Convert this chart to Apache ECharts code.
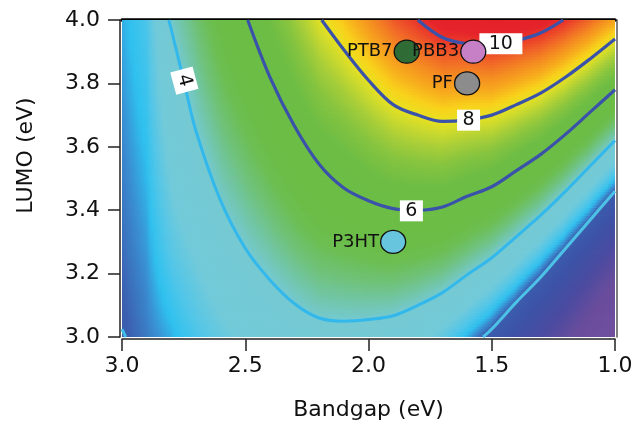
<!DOCTYPE html>
<html><head><meta charset="utf-8">
<script src="https://cdn.jsdelivr.net/npm/echarts/dist/echarts.min.js"></script>
<style>html,body{margin:0;padding:0;background:#fff}#c{width:636px;height:426px}</style>
</head><body><div id="c"></div>
<script>
// ---- data ----
const bandgaps = [3.0,2.9,2.8,2.7,2.6,2.5,2.4,2.3,2.2,2.1,2.0,1.9,1.8,1.7,1.6,1.5,1.4,1.3,1.2,1.1,1.0];
const lumos = [3.00,3.05,3.10,3.15,3.20,3.25,3.30,3.35,3.40,3.45,3.50,3.55,3.60,3.65,3.70,3.75,3.80,3.85,3.90,3.95,4.00];
// efficiency (%) rows: one per LUMO value, columns follow bandgaps
const eff = [
[2.00,2.20,2.43,2.73,3.03,3.24,3.43,3.62,3.76,3.75,3.71,3.60,3.34,2.97,2.42,1.78,0.96,0.00,-1.11,-2.36,-3.75],
[2.02,2.23,2.51,2.83,3.15,3.38,3.59,3.80,3.97,3.98,3.98,3.90,3.67,3.34,2.82,2.23,1.44,0.52,-0.56,-1.77,-3.13],
[2.04,2.26,2.59,2.93,3.26,3.51,3.74,3.98,4.18,4.22,4.24,4.20,4.00,3.71,3.23,2.67,1.92,1.04,0.00,-1.18,-2.50],
[2.06,2.28,2.67,3.02,3.38,3.65,3.90,4.16,4.39,4.45,4.51,4.50,4.34,4.08,3.63,3.12,2.40,1.56,0.56,-0.59,-1.88],
[2.08,2.31,2.75,3.12,3.50,3.78,4.05,4.34,4.60,4.69,4.77,4.80,4.67,4.46,4.03,3.56,2.88,2.08,1.11,0.00,-1.25],
[2.11,2.34,2.84,3.22,3.61,3.92,4.21,4.53,4.81,4.92,5.04,5.10,5.00,4.83,4.44,4.01,3.36,2.60,1.67,0.59,-0.63],
[2.13,2.37,2.92,3.32,3.73,4.05,4.37,4.71,5.01,5.16,5.30,5.40,5.34,5.20,4.84,4.45,3.84,3.12,2.22,1.18,0.00],
[2.15,2.39,3.00,3.41,3.85,4.19,4.52,4.89,5.22,5.39,5.57,5.70,5.67,5.57,5.24,4.90,4.32,3.64,2.78,1.77,0.63],
[2.17,2.42,3.08,3.51,3.96,4.32,4.68,5.07,5.43,5.63,5.83,6.00,6.00,5.94,5.64,5.34,4.80,4.16,3.33,2.36,1.25],
[2.19,2.45,3.16,3.61,4.08,4.46,4.83,5.25,5.64,5.86,6.10,6.30,6.34,6.31,6.05,5.79,5.28,4.68,3.89,2.95,1.88],
[2.21,2.48,3.24,3.71,4.20,4.59,4.99,5.43,5.85,6.10,6.36,6.60,6.67,6.69,6.45,6.23,5.76,5.20,4.44,3.54,2.50],
[2.23,2.50,3.32,3.80,4.31,4.73,5.15,5.61,6.06,6.33,6.63,6.90,7.00,7.06,6.85,6.68,6.24,5.72,5.00,4.13,3.13],
[2.25,2.53,3.40,3.90,4.43,4.86,5.30,5.79,6.27,6.56,6.89,7.20,7.34,7.43,7.26,7.12,6.72,6.24,5.55,4.72,3.75],
[2.27,2.56,3.48,4.00,4.54,5.00,5.46,5.97,6.48,6.80,7.16,7.50,7.67,7.80,7.66,7.57,7.20,6.76,6.11,5.31,4.38],
[2.29,2.59,3.56,4.10,4.66,5.13,5.61,6.15,6.69,7.03,7.42,7.80,8.00,8.17,8.06,8.01,7.68,7.28,6.66,5.90,5.00],
[2.32,2.61,3.65,4.19,4.78,5.27,5.77,6.34,6.90,7.27,7.69,8.10,8.34,8.54,8.47,8.46,8.16,7.80,7.22,6.49,5.63],
[2.34,2.64,3.73,4.29,4.89,5.40,5.93,6.52,7.10,7.50,7.95,8.40,8.67,8.91,8.87,8.90,8.64,8.32,7.77,7.08,6.25],
[2.36,2.67,3.81,4.39,5.01,5.54,6.08,6.70,7.31,7.74,8.22,8.70,9.00,9.29,9.27,9.35,9.12,8.84,8.33,7.67,6.88],
[2.38,2.70,3.89,4.49,5.13,5.67,6.24,6.88,7.52,7.97,8.48,9.00,9.34,9.66,9.67,9.79,9.60,9.36,8.88,8.26,7.50],
[2.40,2.72,3.97,4.58,5.24,5.81,6.39,7.06,7.73,8.21,8.75,9.30,9.67,10.03,10.08,10.24,10.08,9.88,9.44,8.85,8.13],
[2.42,2.75,4.05,4.68,5.36,5.94,6.55,7.24,7.94,8.44,9.01,9.60,10.00,10.40,10.48,10.68,10.56,10.40,9.99,9.44,8.75]
];
// contour lines [bandgap, LUMO]
const contour2a = [[3.0,3.025],[2.985,3.0]];
const contour2b = [[1.535,3.0],[1.5,3.025],[1.4,3.11],[1.3,3.19],[1.2,3.28],[1.1,3.37],[1.0,3.46]];
const contour4 = [[2.81,4.0],[2.8,3.97],[2.75,3.81],[2.7,3.65],[2.6,3.43],[2.5,3.28],[2.4,3.18],[2.3,3.105],[2.2,3.06],[2.1,3.05],[2.0,3.055],[1.9,3.067],[1.8,3.10],[1.7,3.14],[1.6,3.196],[1.5,3.25],[1.4,3.317],[1.3,3.385],[1.2,3.46],[1.1,3.54],[1.0,3.62]];
const contour6 = [[2.49,4.0],[2.4,3.82],[2.3,3.665],[2.2,3.545],[2.1,3.47],[2.0,3.43],[1.9,3.405],[1.8,3.40],[1.7,3.41],[1.6,3.444],[1.5,3.474],[1.4,3.525],[1.3,3.577],[1.2,3.64],[1.1,3.71],[1.0,3.78]];
const contour8 = [[2.19,4.0],[2.1,3.906],[2.0,3.81],[1.9,3.733],[1.8,3.70],[1.7,3.68],[1.6,3.685],[1.5,3.70],[1.4,3.733],[1.3,3.77],[1.2,3.82],[1.1,3.878],[1.0,3.94]];
const contour10 = [[1.80,4.0],[1.7,3.945],[1.6,3.925],[1.5,3.92],[1.4,3.935],[1.3,3.96],[1.21,4.0]];
const contourLabelText = ['4','6','8','10'];
const contourLabelBandgap = [2.747,1.826,1.594,1.463];
const contourLabelLumo = [3.809,3.398,3.684,3.925];
const devices = ['PTB7','PBB3','PF','P3HT'];
const deviceBandgap = [1.845,1.575,1.60,1.90];
const deviceLumo = [3.90,3.90,3.80,3.30];

// ---- styles ----
const deviceColors = ['#2f6b35','#c77fc5','#8c8c8c','#67c6de'];
const cmapStops = [
 [-4,'#714f9f'],[-1.5,'#6a4c9c'],[0,'#4a4ba0'],[1.2,'#3c52a6'],[2.05,'#3b5dae'],[2.3,'#3a8ed2'],[2.5,'#2ec1ef'],
 [2.8,'#52c6e8'],[3.2,'#72cad9'],[4.0,'#74c9d2'],[4.25,'#72c6ae'],[4.6,'#6fc27c'],[5.0,'#6cbe52'],[5.3,'#6bbd47'],
 [6.5,'#6dbd44'],[7.0,'#86c43f'],[7.4,'#a8ce38'],[7.75,'#cdda2d'],[8.0,'#e8e120'],[8.3,'#f8d21b'],[8.7,'#f7aa1d'],
 [9.1,'#f48a21'],[9.5,'#f06428'],[9.9,'#ea3b29'],[10.2,'#e5232a'],[11,'#e4202a']
].map(s => [s[0], parseInt(s[1].slice(1,3),16), parseInt(s[1].slice(3,5),16), parseInt(s[1].slice(5,7),16)]);
function cmap(v){
  if (v <= cmapStops[0][0]) { const s=cmapStops[0]; return `rgb(${s[1]},${s[2]},${s[3]})`; }
  for (let k=1;k<cmapStops.length;k++){
    const a=cmapStops[k-1], b=cmapStops[k];
    if (v <= b[0]) {
      const t=(v-a[0])/(b[0]-a[0]);
      return `rgb(${Math.round(a[1]+(b[1]-a[1])*t)},${Math.round(a[2]+(b[2]-a[2])*t)},${Math.round(a[3]+(b[3]-a[3])*t)})`;
    }
  }
  const s=cmapStops[cmapStops.length-1]; return `rgb(${s[1]},${s[2]},${s[3]})`;
}

const cells = [];
for (let i=0;i<bandgaps.length-1;i++) for (let j=0;j<lumos.length-1;j++) cells.push([bandgaps[i], lumos[j], i, j]);

function renderCell(params, api){
  const i = api.value(2), j = api.value(3);
  const p0 = api.coord([bandgaps[i], lumos[j]]);
  const p1 = api.coord([bandgaps[i+1], lumos[j+1]]);
  const x0 = Math.min(p0[0],p1[0]), w = Math.abs(p1[0]-p0[0]);
  const yb = p0[1], yt = p1[1];
  const v00 = eff[j][i], v10 = eff[j][i+1], v01 = eff[j+1][i], v11 = eff[j+1][i+1];
  const N = 6, M = 6, children = [];
  for (let s=0;s<N;s++){
    const t=(s+0.5)/N;
    const vl=v00+(v01-v00)*t, vr=v10+(v11-v10)*t;
    const ya=yb+(yt-yb)*s/N, yc=yb+(yt-yb)*(s+1)/N;
    const stops=[];
    for (let m=0;m<=M;m++){ const u=m/M; stops.push({offset:u, color:cmap(vl+(vr-vl)*u)}); }
    children.push({type:'rect', silent:true,
      shape:{x:x0, y:Math.min(ya,yc)-0.4, width:w+0.8, height:Math.abs(yc-ya)+0.8},
      style:{fill:new echarts.graphic.LinearGradient(0,0,1,0,stops)}});
  }
  return {type:'group', children};
}

const font = 'DejaVu Sans';
const chart = echarts.init(document.getElementById('c'), null, {renderer:'canvas'});
function lineSeries(data, color, width){
  return {type:'line', data, smooth:0.35, showSymbol:false, symbol:'none', clip:true, z:3,
    lineStyle:{color, width}, silent:true, animation:false};
}
chart.setOption({
  animation:false,
  backgroundColor:'#ffffff',
  grid:{left:122, right:21, top:20, bottom:86},
  xAxis:[
    {type:'value', min:1.0, max:3.0, interval:0.5, inverse:true, position:'bottom', offset:2,
     axisLine:{show:true, onZero:false, lineStyle:{color:'#222', width:1.5}},
     axisTick:{show:true, inside:false, length:12, lineStyle:{color:'#222', width:1.5}},
     axisLabel:{margin:16, fontSize:22, color:'#111', fontFamily:font, formatter:v=>v.toFixed(1)},
     splitLine:{show:false},
     name:'Bandgap (eV)', nameLocation:'middle', nameGap:60,
     nameTextStyle:{fontSize:22, color:'#111', fontFamily:font}},
    {type:'value', min:1.0, max:3.0, inverse:true, position:'top',
     axisLine:{show:true, onZero:false, lineStyle:{color:'#000', width:3.5}},
     axisTick:{show:false}, axisLabel:{show:false}, splitLine:{show:false}}
  ],
  yAxis:[
    {type:'value', min:3.0, max:4.0, interval:0.2, position:'left', offset:2,
     axisLine:{show:true, onZero:false, lineStyle:{color:'#222', width:1.5}},
     axisTick:{show:true, inside:false, length:12, lineStyle:{color:'#222', width:1.5}},
     axisLabel:{margin:20, fontSize:22, color:'#111', fontFamily:font, formatter:v=>v.toFixed(1)},
     splitLine:{show:false},
     name:'LUMO (eV)', nameLocation:'middle', nameGap:83, nameRotate:90,
     nameTextStyle:{fontSize:22, color:'#111', fontFamily:font, padding:[0,0,0,46]}},
    {type:'value', min:3.0, max:4.0, position:'right', offset:2,
     axisLine:{show:true, onZero:false, lineStyle:{color:'#555', width:1.5}},
     axisTick:{show:false}, axisLabel:{show:false}, splitLine:{show:false}}
  ],
  series:[
    {type:'custom', data:cells, renderItem:renderCell, encode:{x:0, y:1}, clip:true, z:1, silent:true, progressive:0, animation:false},
    lineSeries(contour2a,'#3fbde9',3),
    lineSeries(contour2b,'#4cc3e6',3),
    lineSeries(contour4,'#33b8ec',3),
    lineSeries(contour6,'#3a52aa',3.2),
    lineSeries(contour8,'#3a52aa',3.2),
    lineSeries(contour10,'#3a52aa',3.2),
    {type:'scatter', z:4, silent:true, animation:false,
     data: contourLabelText.map((t,k)=>({
       value:[contourLabelBandgap[k], contourLabelLumo[k]], name:t,
       symbolSize: t==='10' ? [43,21] : (t==='4' ? [23,23] : [23,21]),
       symbolRotate: t==='4' ? -75 : 0,
       label:{rotate: t==='4' ? -75 : 0}
     })),
     symbol:'rect', itemStyle:{color:'#ffffff', opacity:1},
     emphasis:{disabled:true},
     label:{show:true, position:'inside', formatter:p=>p.name, fontSize:19, color:'#111', fontFamily:font}},
    {type:'scatter', z:5, silent:true, animation:false,
     data: devices.map((d,k)=>({value:[deviceBandgap[k], deviceLumo[k]], name:d,
       itemStyle:{color:deviceColors[k], opacity:1}})),
     symbol:'circle', symbolSize:[25,23],
     emphasis:{disabled:true},
     itemStyle:{borderColor:'#111', borderWidth:1.3, opacity:1},
     label:{show:true, position:'left', distance:1, formatter:p=>p.name, fontSize:18, color:'#111', fontFamily:font}}
  ]
});
</script></body></html>
